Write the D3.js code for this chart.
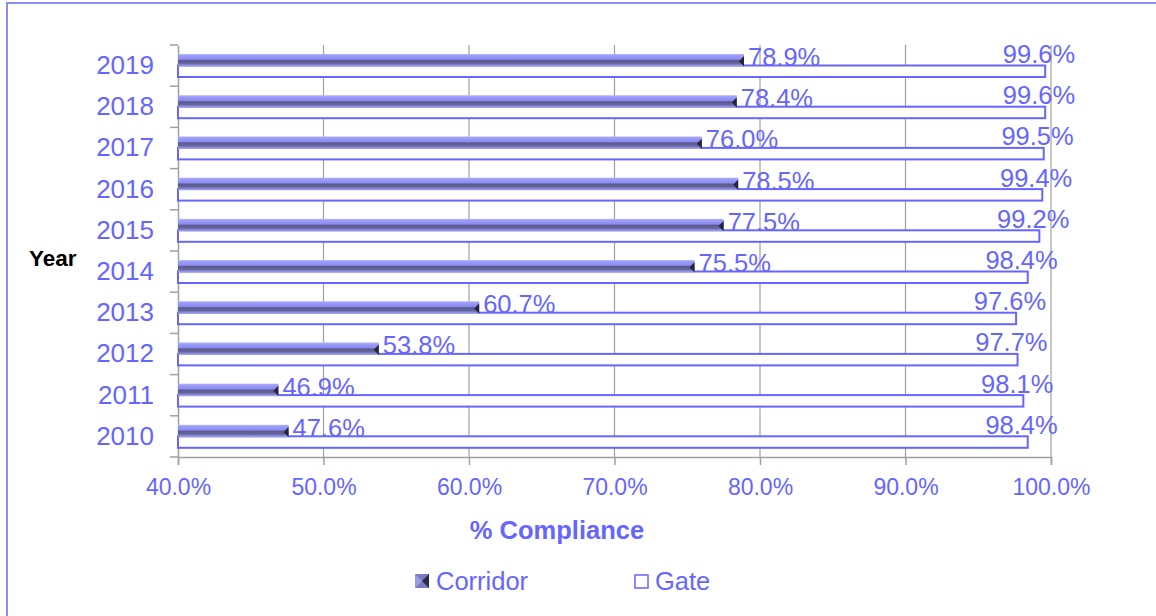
<!DOCTYPE html>
<html>
<head>
<meta charset="utf-8">
<script src="https://cdnjs.cloudflare.com/ajax/libs/d3/7.8.5/d3.min.js"></script>
<style>
  body { margin: 0; background: #fff; }
  text { font-family: "Liberation Sans", Arial, sans-serif; }
</style>
</head>
<body>
<svg id="chart" width="1156" height="616"></svg>
<script>
const years = ['2019', '2018', '2017', '2016', '2015', '2014', '2013', '2012', '2011', '2010'];
const corridor = [78.9, 78.4, 76.0, 78.5, 77.5, 75.5, 60.7, 53.8, 46.9, 47.6];
const gate = [99.6, 99.6, 99.5, 99.4, 99.2, 98.4, 97.6, 97.7, 98.1, 98.4];
const xTicks = [40, 50, 60, 70, 80, 90, 100];
const seriesNames = ['Corridor', 'Gate'];

const blue = '#6666ff';
const svg = d3.select('#chart');

// frame
svg.append('rect')
  .attr('x', 7).attr('y', 3)
  .attr('width', 1160).attr('height', 630)
  .attr('fill', 'none').attr('stroke', '#8c8cf5').attr('stroke-width', 2);

const x = d3.scaleLinear().domain([40, 100]).range([178, 1051]);
const y = d3.scaleBand().domain(years).range([45, 457]);
const sub = d3.scaleBand().domain(seriesNames).range([9, 32]);

// gradient for the 3d corridor bars
const defs = svg.append('defs');
const grad = defs.append('linearGradient').attr('id', 'cyl')
  .attr('x1', 0).attr('y1', 0).attr('x2', 0).attr('y2', 1);
[[0, '#bdbde0'], [0.12, '#9d9dff'], [0.42, '#8c8cf0'], [0.52, '#5a5a8e'],
 [0.75, '#66669e'], [0.88, '#8a8ad8'], [1, '#a8a8f0']]
  .forEach(([o, c]) => grad.append('stop').attr('offset', o).attr('stop-color', c));

// gridlines
svg.append('g')
  .selectAll('line')
  .data(xTicks.slice(1))
  .join('line')
  .attr('x1', d => x(d)).attr('x2', d => x(d))
  .attr('y1', 45).attr('y2', 457)
  .attr('stroke', '#a0a0a0').attr('stroke-width', 1.2);

// x axis
const xAxis = svg.append('g')
  .attr('transform', 'translate(0,457)')
  .call(d3.axisBottom(x).tickValues(xTicks).tickSize(8).tickPadding(14).tickFormat(d => d.toFixed(1) + '%'));
xAxis.select('.domain').attr('stroke', '#a0a0a0').attr('stroke-width', 1.5);
xAxis.selectAll('.tick line').attr('stroke', '#a0a0a0').attr('stroke-width', 1.5);
xAxis.selectAll('text').attr('fill', blue).attr('font-size', 23)
  .attr('font-family', '"Liberation Sans", Arial, sans-serif');

// y axis
const yAxis = svg.append('g')
  .attr('transform', 'translate(178,0)')
  .call(d3.axisLeft(y).tickSize(0).tickPadding(24));
yAxis.select('.domain').attr('stroke', '#a0a0a0').attr('stroke-width', 1.5);
yAxis.selectAll('text').attr('fill', blue).attr('font-size', 26)
  .attr('font-family', '"Liberation Sans", Arial, sans-serif');
// category boundary ticks
svg.append('g')
  .selectAll('line')
  .data(years.concat(['end']))
  .join('line')
  .attr('x1', 170).attr('x2', 178)
  .attr('y1', (d, i) => 45 + i * y.step()).attr('y2', (d, i) => 45 + i * y.step())
  .attr('stroke', '#a0a0a0').attr('stroke-width', 1.5);

const rows = years.map((yr, i) => ({ yr, c: corridor[i], g: gate[i] }));

// gate bars
svg.append('g')
  .selectAll('rect')
  .data(rows)
  .join('rect')
  .attr('x', x(40))
  .attr('y', d => y(d.yr) + sub('Gate'))
  .attr('width', d => x(d.g) - x(40))
  .attr('height', sub.bandwidth())
  .attr('fill', '#fff').attr('stroke', blue).attr('stroke-width', 2);

// corridor bars
const cg = svg.append('g');
cg.selectAll('rect')
  .data(rows)
  .join('rect')
  .attr('x', x(40))
  .attr('y', d => y(d.yr) + sub('Corridor'))
  .attr('width', d => x(d.c) - x(40))
  .attr('height', sub.bandwidth() + 1)
  .attr('fill', 'url(#cyl)');
cg.selectAll('path')
  .data(rows)
  .join('path')
  .attr('d', d => {
    const xe = x(d.c), t = y(d.yr) + sub('Corridor'), b = t + sub.bandwidth() + 1;
    return `M${xe - 5},${(t + b) / 2 + 1}L${xe},${t + 2}L${xe},${b}Z`;
  })
  .attr('fill', '#252540');

// value labels
svg.append('g')
  .selectAll('text')
  .data(rows)
  .join('text')
  .attr('x', d => x(d.c) + 4)
  .attr('y', d => y(d.yr) + 21)
  .attr('font-size', 25.5).attr('fill', blue)
  .text(d => d.c.toFixed(1) + '%');
svg.append('g')
  .selectAll('text')
  .data(rows)
  .join('text')
  .attr('x', d => x(d.g) + 30)
  .attr('y', d => y(d.yr) + 18)
  .attr('text-anchor', 'end')
  .attr('font-size', 25.5).attr('fill', blue)
  .text(d => d.g.toFixed(1) + '%');

// axis titles
svg.append('text')
  .attr('x', 557).attr('y', 539)
  .attr('text-anchor', 'middle')
  .attr('font-size', 25.5).attr('font-weight', 'bold').attr('fill', blue)
  .text('% Compliance');
svg.append('text')
  .attr('x', 29).attr('y', 266)
  .attr('font-family', 'Lato, "Open Sans", sans-serif')
  .attr('font-size', 22.5).attr('font-weight', 'bold').attr('fill', '#000')
  .text('Year');

// legend
const legX = [415, 634];
const leg = svg.append('g')
  .selectAll('g')
  .data(seriesNames)
  .join('g')
  .attr('transform', (d, i) => `translate(${legX[i]},574)`);
leg.filter(d => d === 'Corridor').append('rect')
  .attr('width', 14).attr('height', 14).attr('fill', '#7a7ac0');
leg.filter(d => d === 'Corridor').append('path')
  .attr('d', 'M0,0L7,7L0,14Z').attr('fill', '#9c9ce6');
leg.filter(d => d === 'Corridor').append('path')
  .attr('d', 'M14,0L7,7L14,14Z').attr('fill', '#2a2a4a');
leg.filter(d => d === 'Gate').append('rect')
  .attr('x', 1).attr('y', 1).attr('width', 13).attr('height', 13)
  .attr('fill', '#fff').attr('stroke', blue).attr('stroke-width', 1.5);
leg.append('text')
  .attr('x', 21).attr('y', 16)
  .attr('font-size', 25.5).attr('fill', blue)
  .text(d => d);
</script>
</body>
</html>
